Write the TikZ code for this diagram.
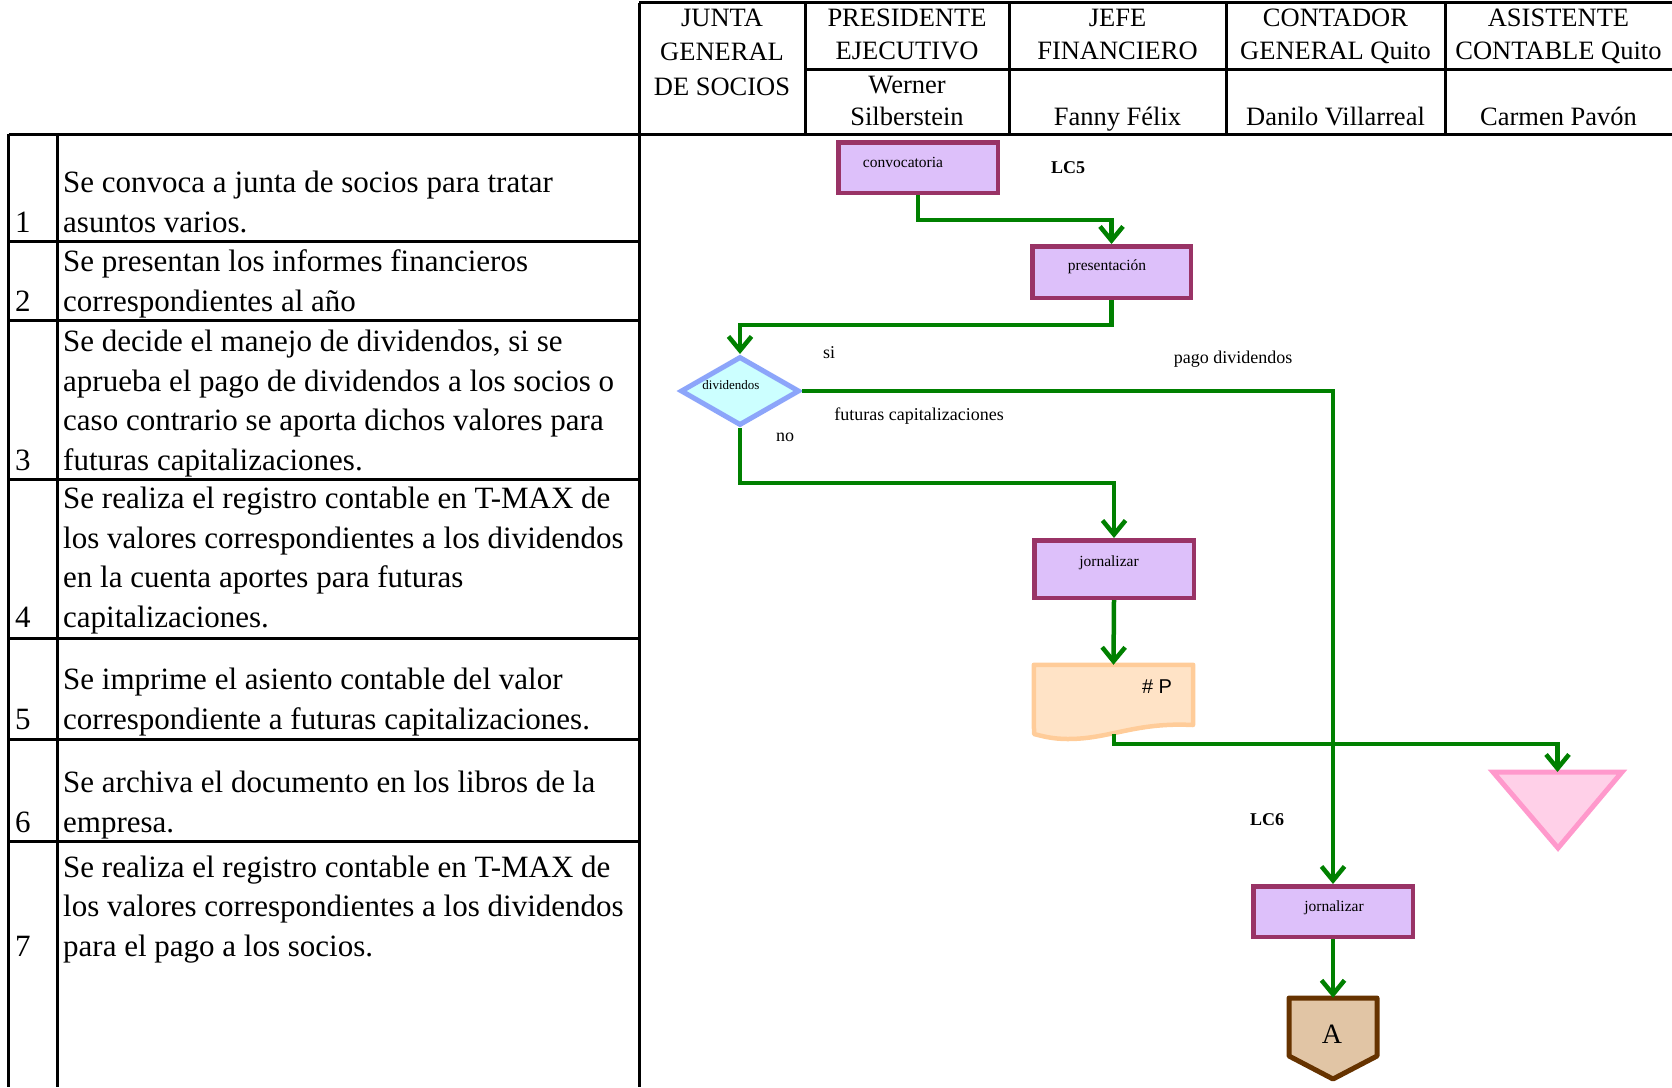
\documentclass[tikz,border=0pt]{standalone}
\usepackage{fontspec}
\setmainfont{Liberation Serif}
\newfontfamily\arialfont{Liberation Sans}
\usetikzlibrary{arrows.meta,shapes.geometric}

\definecolor{flowgreen}{RGB}{0,128,0}
\definecolor{boxfill}{RGB}{221,192,250}
\definecolor{boxborder}{RGB}{153,51,102}
\definecolor{decfill}{RGB}{204,255,255}
\definecolor{decborder}{RGB}{140,165,250}
\definecolor{docfill}{RGB}{255,227,198}
\definecolor{docborder}{RGB}{255,204,153}
\definecolor{trifill}{RGB}{255,208,232}
\definecolor{triborder}{RGB}{255,153,204}
\definecolor{offfill}{RGB}{225,197,165}
\definecolor{offborder}{RGB}{102,51,0}

\begin{document}
\begin{tikzpicture}[x=1pt,y=-1pt,
  grid/.style={line width=3pt,black},
  proc/.style={draw=boxborder,fill=boxfill,line width=4.5pt,inner sep=0pt,
    minimum width=159.5pt,minimum height=50.5pt},
  flow/.style={draw=flowgreen,line width=4.5pt,
    -{Straight Barb[length=14pt,width=23pt,line width=4.5pt]}},
  steptext/.style={anchor=base west,align=left,inner sep=0pt,
    font=\fontsize{31}{39.5}\selectfont},
  stepnum/.style={anchor=base west,inner sep=0pt,font=\fontsize{31}{39.5}\selectfont},
  hdr/.style={anchor=base,align=center,inner sep=0pt,font=\fontsize{26.5}{33}\selectfont},
  lbl/.style={inner sep=0pt,font=\fontsize{18}{20}\selectfont},
  boxlbl/.style={inner sep=0pt,font=\fontsize{15.5}{17}\selectfont},
  code/.style={inner sep=0pt,font=\bfseries\fontsize{18}{20}\selectfont}]

\useasboundingbox (0,0) rectangle (1672,1087);

% ---------- header grid ----------
\draw[grid] (639,2.5) -- (1672,2.5);
\draw[grid] (805,69) -- (1672,69);
\draw[grid] (8.5,134) -- (1672,134);
\foreach \x in {805,1009,1226,1445} \draw[grid] (\x,2.5) -- (\x,134);
\draw[grid] (639,2.5) -- (639,1087);

% ---------- step table grid ----------
\draw[grid] (8.5,134) -- (8.5,1087);
\draw[grid] (57.6,134) -- (57.6,1087);
\foreach \y in {241,320,479,638,739,841} \draw[grid] (8.5,\y) -- (639,\y);

% ---------- header texts (nodes placed on the last baseline) ----------
\node[hdr,font=\fontsize{26.5}{34.5}\selectfont] (h-junta) at (722,95) {JUNTA\\GENERAL\\DE SOCIOS};
\node[hdr] (h-pres) at (907,59) {PRESIDENTE\\EJECUTIVO};
\node[hdr,font=\fontsize{26.5}{32}\selectfont] (n-pres) at (907,125) {Werner\\Silberstein};
\node[hdr] (h-jefe) at (1117.5,59) {JEFE\\FINANCIERO};
\node[hdr] (n-jefe) at (1117.5,125) {Fanny Félix};
\node[hdr] (h-cont) at (1335.5,59) {CONTADOR\\GENERAL Quito};
\node[hdr] (n-cont) at (1335.5,125) {Danilo Villarreal};
\node[hdr] (h-asis) at (1558.5,59) {ASISTENTE\\CONTABLE Quito};
\node[hdr] (n-asis) at (1558.5,125) {Carmen Pavón};

% ---------- step descriptions (last baseline of each cell) ----------
\node[stepnum] (k1) at (15,232) {1};
\node[steptext] (s1) at (63,232) {Se convoca a junta de socios para tratar\\asuntos varios.};
\node[stepnum] (k2) at (15,311) {2};
\node[steptext] (s2) at (63,311) {Se presentan los informes financieros\\correspondientes al año};
\node[stepnum] (k3) at (15,470) {3};
\node[steptext] (s3) at (63,470) {Se decide el manejo de dividendos, si se\\aprueba el pago de dividendos a los socios o\\caso contrario se aporta dichos valores para\\futuras capitalizaciones.};
\node[stepnum] (k4) at (15,627) {4};
\node[steptext] (s4) at (63,627) {Se realiza el registro contable en T-MAX de\\los valores correspondientes a los dividendos\\en la cuenta aportes para futuras\\capitalizaciones.};
\node[stepnum] (k5) at (15,729) {5};
\node[steptext] (s5) at (63,729) {Se imprime el asiento contable del valor\\correspondiente a futuras capitalizaciones.};
\node[stepnum] (k6) at (15,832) {6};
\node[steptext] (s6) at (63,832) {Se archiva el documento en los libros de la\\empresa.};
\node[stepnum] (k7) at (15,956) {7};
\node[steptext] (s7) at (63,956) {Se realiza el registro contable en T-MAX de\\los valores correspondientes a los dividendos\\para el pago a los socios.};

% ---------- flow shapes ----------
\node[proc] (conv) at (918,167.5) {};
\node[boxlbl] (conv-t) at (903,162) {convocatoria};
\node[code] (lc5) at (1068,168) {LC5};

\node[proc,minimum width=158.5pt,minimum height=51.5pt] (pres) at (1111.5,272) {};
\node[boxlbl] (pres-t) at (1107,267) {presentación};

\node[diamond,draw=decborder,fill=decfill,line width=5pt,inner sep=0pt,
  minimum width=119pt,minimum height=69pt] (dec) at (740,391) {};
\node[inner sep=0pt,font=\fontsize{13}{15}\selectfont] (dec-t) at (731,385) {dividendos};

\node[lbl] (l-si) at (829,353) {si};
\node[lbl] (l-pago) at (1233,359) {pago dividendos};
\node[lbl] (l-fut) at (919,416) {futuras capitalizaciones};
\node[lbl] (l-no) at (785,437) {no};

\node[proc,minimum height=57.5pt] (jorn1) at (1114,569) {};
\node[boxlbl] (jorn1-t) at (1109,563) {jornalizar};

% printed document
\node[inner sep=0pt,minimum width=159pt,minimum height=69pt] (doc) at (1113.5,699.5) {};
\draw[draw=docborder,fill=docfill,line width=4.5pt,line join=round]
  (doc.north west) -- (doc.north east) -- (1193,725)
  .. controls (1135,722) and (1110,739) .. (1068,739)
  .. controls (1052,739) and (1042,736) .. (1034,734) -- cycle;
\node[inner sep=0pt,font=\arialfont\fontsize{20}{22}\selectfont] (doc-t) at (1157,687) {\# P};

% archive triangle
\draw[draw=triborder,fill=trifill,line width=5pt,line join=miter]
  (1493,772) -- (1622,772) -- (1558,848) -- cycle;
\coordinate (tri) at (1557.5,772);

\node[code] (lc6) at (1267,820) {LC6};

\node[proc] (jorn2) at (1333,911.5) {};
\node[boxlbl] (jorn2-t) at (1334,908) {jornalizar};

% off-page connector
\node[inner sep=0pt,minimum width=88pt,minimum height=81pt] (off) at (1333,1038.5) {};
\draw[draw=offborder,fill=offfill,line width=5pt,line join=round]
  (1289,998) -- (1377,998) -- (1377,1056) -- (1333,1079) -- (1289,1056) -- cycle;
\node[inner sep=0pt,font=\fontsize{28}{30}\selectfont] (off-t) at (1332,1034) {A};

% ---------- connectors ----------
\draw[flow] (conv.south) |- (pres.north |- 0,220) -- (pres.north);
\draw[flow] (pres.south) |- (dec.north |- 0,325) -- (dec.north);
\draw[flow] (dec.east) -| (jorn2.north);
\draw[flow] (dec.south) |- (jorn1.north |- 0,483) -- (jorn1.north);
\draw[flow] (jorn1.south) -- (doc.north);
\draw[flow] (1114,734) |- (tri |- 0,744) -- (tri);
\draw[flow] (jorn2.south) -- (off.north);

\end{tikzpicture}
\end{document}
